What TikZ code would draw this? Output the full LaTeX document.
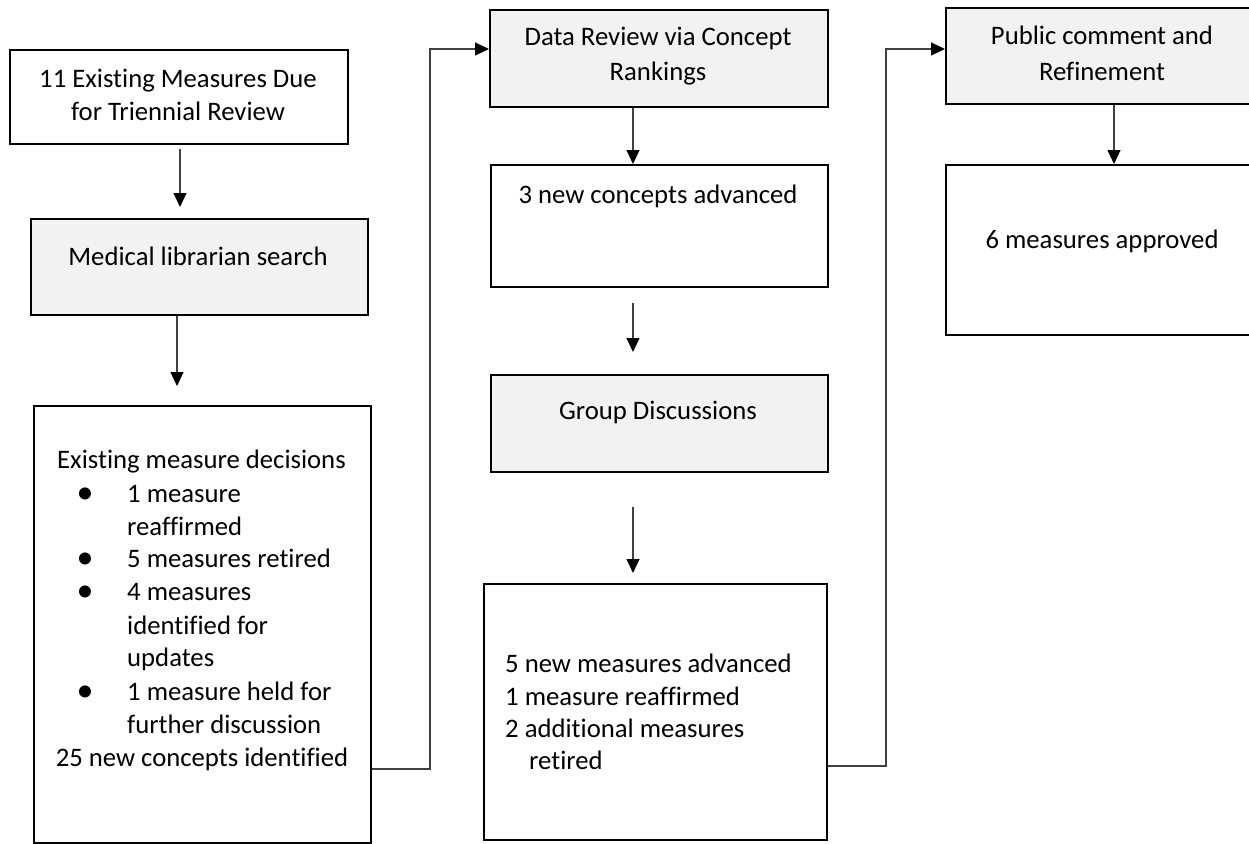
\documentclass[tikz,border=0pt]{standalone}
\usepackage{fontspec}
\setmainfont{Carlito}[Ligatures=NoCommon]
\usetikzlibrary{arrows.meta}
\definecolor{boxgray}{HTML}{F2F2F2}
\begin{document}
\begin{tikzpicture}[x=1pt,y=-1pt,
  box/.style={draw=black, line width=1.6pt, inner sep=0pt, anchor=north west},
  gbox/.style={box, fill=boxgray},
  wbox/.style={box, fill=white},
  txt/.style={font=\fontsize{26.7}{33}\selectfont, inner sep=0pt, anchor=base},
  ltxt/.style={txt, anchor=base west},
  dot/.style={txt, font=\fontsize{34}{34}\selectfont},
  conn/.style={draw=black!75, line width=1.1pt},
  arr/.style={conn, -{Triangle[width=13pt,length=14pt,black]}}]
\useasboundingbox (0,0) rectangle (1249,843);
\clip (0,0) rectangle (1249,843);
% boxes
\node[wbox, minimum width=338pt, minimum height=94pt] (b1) at (9,49) {};
\node[gbox, minimum width=337pt, minimum height=96pt] (b2) at (30,218) {};
\node[wbox, minimum width=337pt, minimum height=437pt] (b3) at (33,405) {};
\node[gbox, minimum width=338pt, minimum height=97pt] (b4) at (489,9) {};
\node[wbox, minimum width=337pt, minimum height=122pt] (b5) at (490,164) {};
\node[gbox, minimum width=337pt, minimum height=97pt] (b6) at (490,374) {};
\node[wbox, minimum width=343pt, minimum height=256pt] (b7) at (483,583) {};
\node[gbox, minimum width=314pt, minimum height=96pt] (b8) at (945,7) {};
\node[wbox, minimum width=314pt, minimum height=170pt] (b9) at (945,164) {};
% texts
\node[txt] (t1a) at (178,87) {11 Existing Measures Due};
\node[txt] (t1b) at (178,120) {for Triennial Review};
\node[txt] (t2) at (198,265) {Medical librarian search};
\node[txt] (t3h) at (201.5,468) {Existing measure decisions};
\node[dot] (d1) at (85,503) {•};
\node[dot] (d2) at (85,568) {•};
\node[dot] (d3) at (85,601) {•};
\node[dot] (d4) at (85,701) {•};
\node[ltxt] (t3a) at (127,502) {1 measure};
\node[ltxt] (t3b) at (127,535) {reaffirmed};
\node[ltxt] (t3c) at (127,567) {5 measures retired};
\node[ltxt] (t3d) at (127,600) {4 measures};
\node[ltxt] (t3e) at (127,634) {identified for};
\node[ltxt] (t3f) at (127,666) {updates};
\node[ltxt] (t3g) at (127,700) {1 measure held for};
\node[ltxt] (t3i) at (127,733) {further discussion};
\node[txt] (t3z) at (202,766) {25 new concepts identified};
\node[txt] (t4a) at (658,46) {Data Review via Concept};
\node[txt] (t4b) at (658,80) {Rankings};
\node[txt] (t5) at (658,203) {3 new concepts advanced};
\node[txt] (t6) at (658,419) {Group Discussions};
\node[ltxt] (t7a) at (505,672) {5 new measures advanced};
\node[ltxt] (t7b) at (505,705) {1 measure reaffirmed};
\node[ltxt] (t7c) at (505,737) {2 additional measures};
\node[ltxt] (t7d) at (529,769) {retired};
\node[txt] (t8a) at (1102,45) {Public comment and};
\node[txt] (t8b) at (1102,80) {Refinement};
\node[txt] (t9) at (1102,248) {6 measures approved};
% helper coordinates
\coordinate (c1) at (180,0);
\coordinate (c2) at (177,0);
\coordinate (c3) at (633,0);
\coordinate (c4) at (1114,0);
\coordinate (j1) at (430,769);
\coordinate (j2) at (430,49);
\coordinate (j3) at (886,766);
\coordinate (j4) at (886,49);
% arrows
\draw[arr, shorten <=4pt, shorten >=11pt] (b1.south -| c1) -- (b2.north -| c1);
\draw[arr, shorten >=19pt] (b2.south -| c2) -- (b3.north -| c2);
\draw[arr] (b4.south -| c3) -- (b5.north -| c3);
\draw[arr, shorten <=15pt, shorten >=22pt] (b5.south -| c3) -- (b6.north -| c3);
\draw[arr, shorten <=34pt, shorten >=10pt] (b6.south -| c3) -- (b7.north -| c3);
\draw[arr] (b8.south -| c4) -- (b9.north -| c4);
\draw[arr] (j1 -| b3.east) -- (j1) -- (j2) -- (j2 -| b4.west);
\draw[arr] (j3 -| b7.east) -- (j3) -- (j4) -- (j4 -| b8.west);
\end{tikzpicture}
\end{document}
